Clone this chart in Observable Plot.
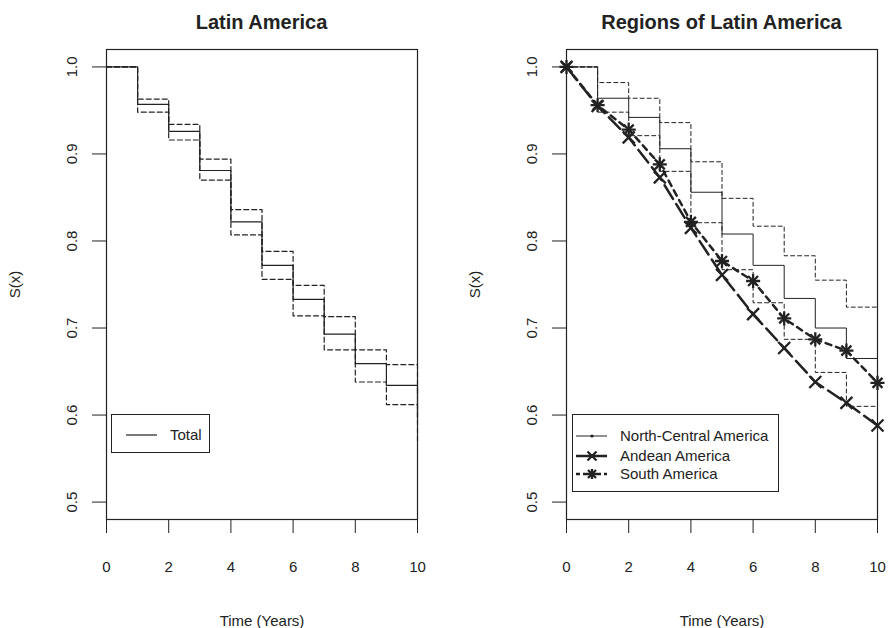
<!DOCTYPE html>
<html>
<head>
<meta charset="utf-8">
<script src="https://cdn.jsdelivr.net/npm/d3@7"></script>
<script src="https://cdn.jsdelivr.net/npm/@observablehq/plot@0.6"></script>
<style>
  html, body { margin: 0; padding: 0; background: #fff; }
  body { font-family: "Liberation Sans", Arial, Helvetica, sans-serif; }
  #wrap { position: relative; width: 895px; height: 628px; overflow: hidden; }
  .panel { position: absolute; top: 0; height: 628px; }
  .title { position: absolute; top: 0; height: 40px; line-height: 44px; text-align: center;
           font-weight: bold; font-size: 20px; color: #222; }
  .plot { position: absolute; top: 40px; left: 0; }
  .legend { position: absolute; border: 1px solid #222; background: #fff; }
  .legend svg { position: absolute; left: 0; top: 0; overflow: visible; }
</style>
</head>
<body>
<div id="wrap">
  <div class="panel" id="left" style="left:0;width:447px;"></div>
  <div class="panel" id="right" style="left:447px;width:448px;"></div>
</div>
<script>
// ---- data ----
const years = [0, 1, 2, 3, 4, 5, 6, 7, 8, 9, 10];
const xTicks = [0, 2, 4, 6, 8, 10];
const yTicks = [0.5, 0.6, 0.7, 0.8, 0.9, 1.0];

// Left panel: Latin America total, Kaplan-Meier with 95% bounds
const totalS     = [1, 0.957, 0.926, 0.881, 0.822, 0.772, 0.733, 0.693, 0.659, 0.634, 0.597];
const totalUpper = [1, 0.963, 0.934, 0.894, 0.836, 0.788, 0.749, 0.713, 0.675, 0.658, 0.625];
const totalLower = [1, 0.948, 0.916, 0.870, 0.807, 0.756, 0.714, 0.675, 0.638, 0.612, 0.568];

// Right panel: regions
const ncS     = [1, 0.964, 0.942, 0.906, 0.856, 0.808, 0.772, 0.734, 0.700, 0.665, 0.630];
const ncUpper = [1, 0.982, 0.964, 0.936, 0.891, 0.849, 0.817, 0.783, 0.755, 0.724, 0.700];
const ncLower = [1, 0.948, 0.921, 0.880, 0.821, 0.767, 0.729, 0.687, 0.649, 0.610, 0.540];
const andean  = [1, 0.955, 0.919, 0.873, 0.815, 0.761, 0.716, 0.677, 0.638, 0.614, 0.588];
const southAm = [1, 0.956, 0.928, 0.888, 0.822, 0.777, 0.754, 0.711, 0.687, 0.674, 0.637];

const leftTitle = "Latin America";
const rightTitle = "Regions of Latin America";
const xLabel = "Time (Years)";
const yLabel = "S(x)";
const leftLegend = ["Total"];
const rightLegend = ["North-Central America", "Andean America", "South America"];

// ---- helpers ----
const ink = "#222";
const font = '"Liberation Sans", Arial, Helvetica, sans-serif';
const rows = arr => years.map((t, i) => ({t, s: arr[i]}));

function axes() {
  return [
    Plot.axisX({ticks: xTicks, tickSize: 14, tickPadding: 28, fontSize: 15, stroke: ink, fill: ink,
      label: xLabel, labelAnchor: "center", labelOffset: 106, labelArrow: "none"}),
    Plot.axisY({ticks: yTicks, tickSize: 14, tickPadding: 16, tickRotate: -90, fontSize: 15, stroke: ink, fill: ink,
      tickFormat: d3.format(".1f"), label: yLabel, labelAnchor: "center", labelOffset: 97, labelArrow: "none"}),
    Plot.frame({stroke: ink, strokeWidth: 1.2})
  ];
}

function base(width, ml, mr, marks) {
  return Plot.plot({
    width, height: 588,
    marginLeft: ml, marginRight: mr, marginTop: 9, marginBottom: 109,
    style: {fontFamily: font, fontSize: "15px", color: ink, background: "transparent", overflow: "visible"},
    x: {domain: [0, 10]},
    y: {domain: [0.48, 1.02]},
    marks: [...marks, ...axes()]
  });
}

function panel(el, title, width, ml, mr, marks) {
  const t = document.createElement("div");
  t.className = "title";
  t.style.left = ml + "px";
  t.style.width = (width - ml - mr) + "px";
  t.textContent = title;
  el.appendChild(t);
  const p = base(width, ml, mr, marks);
  p.classList.add("plot");
  el.appendChild(p);
}

// ---- left ----
panel(document.getElementById("left"), leftTitle, 447, 106, 30, [
  Plot.line(rows(totalUpper), {x: "t", y: "s", curve: "step-after", stroke: ink, strokeWidth: 1.2, strokeDasharray: "5,3"}),
  Plot.line(rows(totalLower), {x: "t", y: "s", curve: "step-after", stroke: ink, strokeWidth: 1.2, strokeDasharray: "5,3"}),
  Plot.line(rows(totalS), {x: "t", y: "s", curve: "step-after", stroke: ink, strokeWidth: 1.2})
]);

// ---- right ----
const symOpts = {x: "t", y: "s", stroke: ink, strokeWidth: 2.3, r: 4.6};
panel(document.getElementById("right"), rightTitle, 448, 119, 18, [
  Plot.line(rows(ncUpper), {x: "t", y: "s", curve: "step-after", stroke: ink, strokeWidth: 1, strokeDasharray: "4,3"}),
  Plot.line(rows(ncLower), {x: "t", y: "s", curve: "step-after", stroke: ink, strokeWidth: 1, strokeDasharray: "4,3"}),
  Plot.line(rows(ncS), {x: "t", y: "s", curve: "step-after", stroke: ink, strokeWidth: 1}),
  Plot.line(rows(andean), {x: "t", y: "s", stroke: ink, strokeWidth: 2.5, strokeDasharray: "16,6"}),
  Plot.line(rows(southAm), {x: "t", y: "s", stroke: ink, strokeWidth: 2.5, strokeDasharray: "6,5"}),
  Plot.dot(rows(andean), {...symOpts, symbol: "times", r: 5.5}),
  Plot.dot(rows(southAm), {...symOpts, symbol: "times"}),
  Plot.dot(rows(southAm), {...symOpts, symbol: "plus"})
]);

// ---- legends (HTML overlays) ----
function legend(parentId, left, top, w, h, items) {
  const box = document.createElement("div");
  box.className = "legend";
  Object.assign(box.style, {left: left + "px", top: top + "px", width: w + "px", height: h + "px"});
  const ns = "http://www.w3.org/2000/svg";
  const svg = document.createElementNS(ns, "svg");
  svg.setAttribute("width", w); svg.setAttribute("height", h);
  items.forEach(it => {
    const g = document.createElementNS(ns, "g");
    g.innerHTML = it.svg;
    svg.appendChild(g);
    const tx = document.createElementNS(ns, "text");
    tx.setAttribute("x", it.tx); tx.setAttribute("y", it.ty);
    tx.setAttribute("dy", "0.35em");
    tx.setAttribute("font-size", "15"); tx.setAttribute("font-family", font);
    tx.setAttribute("fill", ink);
    tx.textContent = it.label;
    svg.appendChild(tx);
  });
  box.appendChild(svg);
  document.getElementById(parentId).appendChild(box);
}

legend("left", 111, 414, 97, 37, [
  {label: leftLegend[0], tx: 58, ty: 20,
   svg: `<line x1="14" x2="45" y1="20" y2="20" stroke="${ink}" stroke-width="1.2"/>`}
]);

const ax = (cx, cy, r) => `<path d="M${cx-r},${cy-r}L${cx+r},${cy+r}M${cx-r},${cy+r}L${cx+r},${cy-r}" stroke="${ink}" stroke-width="2.3"/>`;
const pl = (cx, cy, r) => `<path d="M${cx-r},${cy}L${cx+r},${cy}M${cx},${cy-r}L${cx},${cy+r}" stroke="${ink}" stroke-width="2.3"/>`;
legend("right", 572 - 447, 414, 205, 76, [
  {label: rightLegend[0], tx: 47, ty: 21,
   svg: `<line x1="3" x2="34" y1="21" y2="21" stroke="${ink}" stroke-width="1"/><circle cx="19" cy="21" r="1.6" fill="${ink}"/>`},
  {label: rightLegend[1], tx: 47, ty: 41,
   svg: `<line x1="3" x2="34" y1="41" y2="41" stroke="${ink}" stroke-width="2.5"/>${ax(19, 41, 4.5)}`},
  {label: rightLegend[2], tx: 47, ty: 59,
   svg: `<line x1="3" x2="34" y1="59" y2="59" stroke="${ink}" stroke-width="2.5" stroke-dasharray="4,3"/>${ax(19, 59, 4)}${pl(19, 59, 5)}`}
]);
</script>
</body>
</html>
